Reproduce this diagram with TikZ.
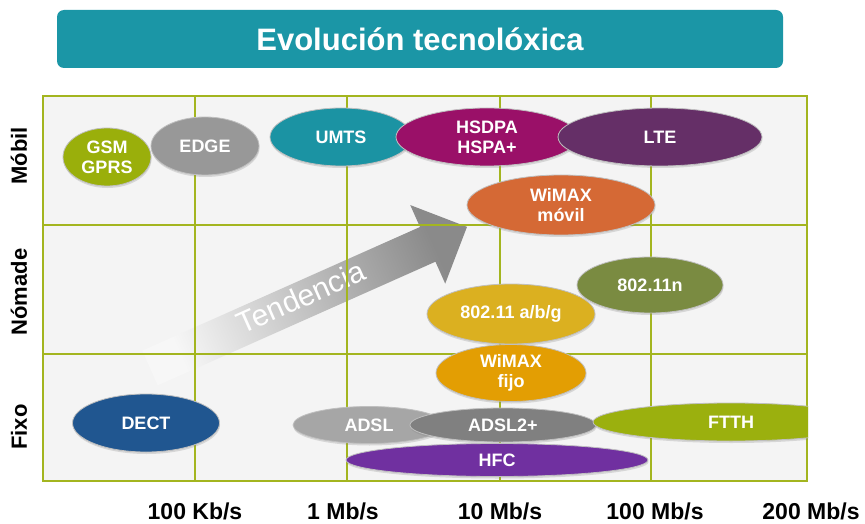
\documentclass[tikz,border=0pt]{standalone}
\usepackage{fontspec}
\setmainfont{Liberation Sans}
\usetikzlibrary{shapes.geometric}
\usetikzlibrary{shadows}

\definecolor{titleteal}{HTML}{1B96A6}
\definecolor{gridgreen}{HTML}{A3B51F}
\definecolor{gridbg}{HTML}{F4F4F4}
\definecolor{gsmgreen}{HTML}{9AAF0B}
\definecolor{edgegray}{HTML}{989898}
\definecolor{umtsteal}{HTML}{1B93A3}
\definecolor{hspamagenta}{HTML}{9A1068}
\definecolor{ltepurple}{HTML}{652F67}
\definecolor{wimaxorange}{HTML}{D56935}
\definecolor{wifiolive}{HTML}{7A8B41}
\definecolor{wifigold}{HTML}{DBB020}
\definecolor{wimaxamber}{HTML}{E39E03}
\definecolor{adslgray}{HTML}{A6A6A6}
\definecolor{adsltwogray}{HTML}{808080}
\definecolor{hfcviolet}{HTML}{7030A0}
\definecolor{ftthgreen}{HTML}{9BB00E}
\definecolor{dectblue}{HTML}{205690}

\begin{document}
\begin{tikzpicture}[x=1pt, y=-1pt,
    tech/.style={ellipse, draw=black!25, line width=0.8pt, inner sep=0pt,
        text=white, align=center, font=\fontsize{18}{20}\selectfont\bfseries,
        drop shadow={shadow xshift=0.5pt, shadow yshift=-2pt, opacity=0.25}},
    rowlabel/.style={rotate=90, inner sep=0pt, font=\fontsize{22}{24}\selectfont\bfseries},
    ratelabel/.style={inner sep=0pt, font=\fontsize{23}{25}\selectfont\bfseries},
    gridline/.style={gridgreen, line width=1.6pt}]

    \useasboundingbox (0,0) rectangle (865,524);

    % Title
    \node[fill=titleteal, rounded corners=7pt, minimum width=726, minimum height=58,
          text=white, font=\fontsize{31}{33}\selectfont\bfseries]
          (title) at (420,39) {Evolución tecnolóxica};

    % Background and trend arrow
    \fill[gridbg] (43,96) rectangle (807,481);
    \begin{scope}[shift={(150,368)}, rotate=24]
        \shade[left color=black!3, right color=black!46, shading angle=114]
            (0,-19) -- (304,-19) -- (304,-43) -- (347,0) -- (304,43) -- (304,19) -- (0,19) -- cycle;
    \end{scope}
    \node[rotate=24, inner sep=0pt, text=white, font=\fontsize{30}{32}\selectfont] (trend) at (301,297) {Tendencia};

    % Grid
    \foreach \gx in {195,347,500,651} {
        \draw[gridline] (\gx,96) -- (\gx,481);
    }
    \foreach \gy in {225,354} {
        \draw[gridline] (43,\gy) -- (807,\gy);
    }
    \draw[gridline] (43,96) rectangle (807,481);

    % Mobile nodes
    \node[tech, fill=gsmgreen, minimum width=88, minimum height=58]      (gsm)   at (107,157) {GSM\\GPRS}; %
    \node[tech, fill=edgegray, minimum width=108, minimum height=58]     (edge)  at (205,146) {EDGE}; %
    \node[tech, fill=umtsteal, minimum width=142, minimum height=58]     (umts)  at (341,137) {UMTS}; %
    \node[tech, fill=hspamagenta, minimum width=182, minimum height=58]  (hspa)  at (487,137) {HSDPA\\HSPA+}; %
    \node[tech, fill=ltepurple, minimum width=204, minimum height=58]    (lte)   at (660,137) {LTE}; %
    \node[tech, fill=wimaxorange, minimum width=188, minimum height=60]  (wimaxm) at (561,205) {WiMAX\\móvil}; %

    % Nomadic nodes
    \node[tech, fill=wifiolive, minimum width=146, minimum height=56]    (wifin) at (650,285) {802.11n}; %
    \node[tech, fill=wifigold, minimum width=168, minimum height=60]     (wifiabg) at (511,314) {802.11 a/b/g}; %

    % Fixed nodes
    \node[tech, fill=wimaxamber, minimum width=150, minimum height=57]   (wimaxf) at (511,373) {WiMAX\\fijo}; %
    \node[tech, fill=dectblue, minimum width=147, minimum height=58]     (dect)  at (146,423) {DECT}; %
    \node[tech, fill=adslgray, minimum width=152, minimum height=37]     (adsl)  at (369,425) {ADSL}; %
    \node[tech, fill=adsltwogray, minimum width=186, minimum height=34]  (adsltwo) at (503,425) {ADSL2+}; %
    \node[tech, fill=hfcviolet, minimum width=302, minimum height=33]    (hfc)   at (497,460) {HFC}; %
    \begin{scope}
        \clip (43,96) rectangle (808,481);
        \node[tech, fill=ftthgreen, minimum width=276, minimum height=38] (ftth) at (731,422) {FTTH}; %
    \end{scope}

    % Row labels
    \node[rowlabel] (mobil)  at (19,156) {Móbil};
    \node[rowlabel] (nomade) at (19,292) {Nómade};
    \node[rowlabel] (fixo)   at (19,427) {Fixo};

    % Rate labels
    \node[ratelabel] (kb100) at (195,511) {100 Kb/s};
    \node[ratelabel] (mb1)   at (343,511) {1 Mb/s};
    \node[ratelabel] (mb10)  at (500,511) {10 Mb/s};
    \node[ratelabel] (mb100) at (655,511) {100 Mb/s};
    \node[ratelabel] (mb200) at (811,511) {200 Mb/s};

\end{tikzpicture}
\end{document}
